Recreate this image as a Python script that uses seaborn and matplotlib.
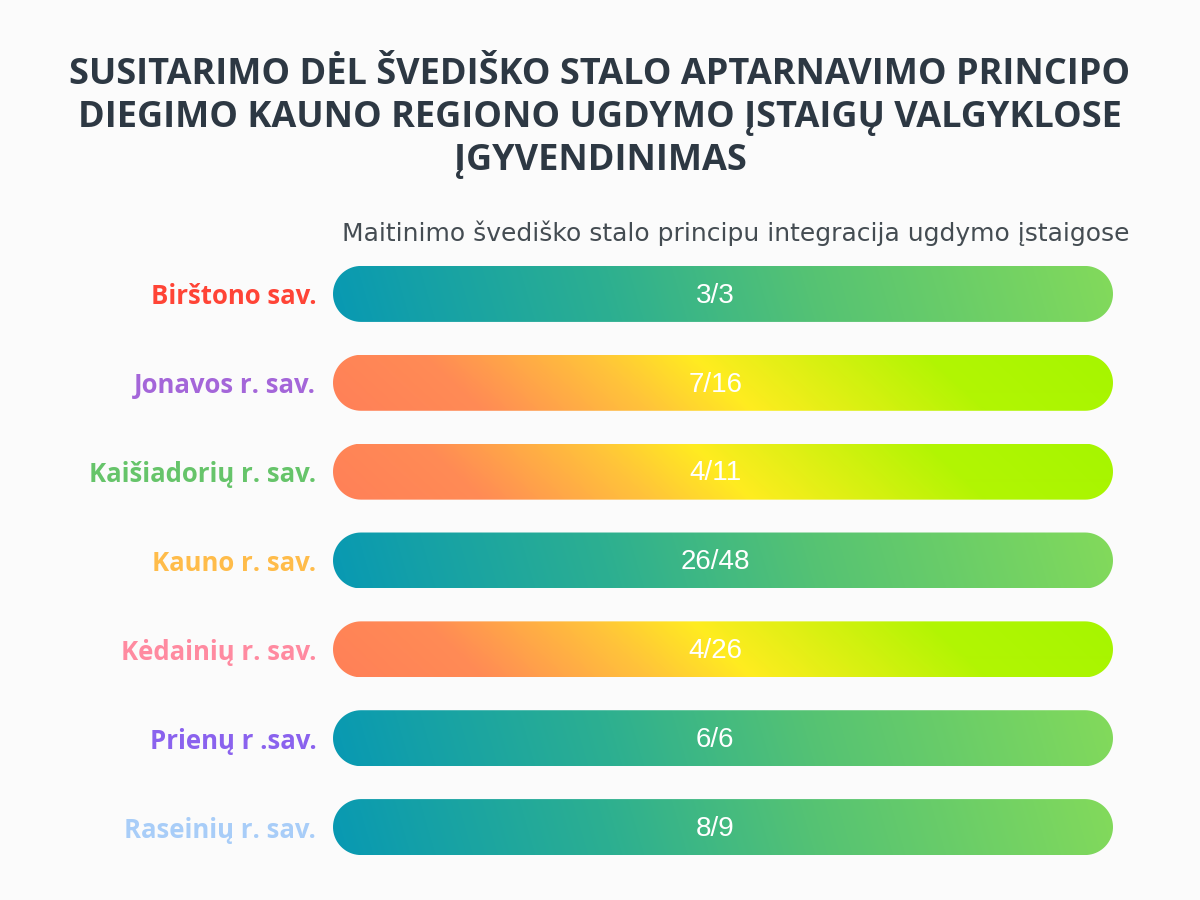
import numpy as np
import pandas as pd
import matplotlib
matplotlib.use("Agg")
import matplotlib.pyplot as plt
import seaborn as sns
from matplotlib.patches import Polygon
from matplotlib.colors import LinearSegmentedColormap

# --- data ---
regions = ["Birštono sav.", "Jonavos r. sav.", "Kaišiadorių r. sav.", "Kauno r. sav.",
           "Kėdainių r. sav.", "Prienų r .sav.", "Raseinių r. sav."]
progress_labels = ["3/3", "7/16", "4/11", "26/48", "4/26", "6/6", "8/9"]
bar_share = [100, 100, 100, 100, 100, 100, 100]
bar_scheme = ["teal", "warm", "warm", "teal", "warm", "teal", "teal"]
label_colors = ["#ff4436", "#a466d9", "#66c46a", "#ffbc4a", "#ff8aa0", "#8a62ee", "#a8cdf8"]

title = ("SUSITARIMO DĖL ŠVEDIŠKO STALO APTARNAVIMO PRINCIPO\n"
         "DIEGIMO KAUNO REGIONO UGDYMO ĮSTAIGŲ VALGYKLOSE\n"
         "ĮGYVENDINIMAS")
subtitle = "Maitinimo švediško stalo principu integracija ugdymo įstaigose"

BG = "#fbfbfb"
cmaps = {
    "teal": LinearSegmentedColormap.from_list(
        "teal", [(0, "#0899b3"), (0.35, "#2caf91"), (0.62, "#56c373"), (1, "#83da5b")]),
    "warm": LinearSegmentedColormap.from_list(
        "warm", [(0, "#ff8058"), (0.18, "#ff8b55"), (0.38, "#ffc43a"), (0.5, "#ffec20"),
                 (0.78, "#b2f503"), (1, "#a6f500")]),
}

df = pd.DataFrame({"region": regions, "share": bar_share})

sns.set_theme(style="white")
plt.rcParams["font.family"] = ["Open Sans", "DejaVu Sans"]

fig = plt.figure(figsize=(12, 9), dpi=100, facecolor=BG)
# axes laid out so the bars sit at x 333..1113 px
ax = fig.add_axes([333 / 1200, 28.5 / 900, 780 / 1200, 622 / 900])
ax.set_facecolor(BG)

sns.barplot(data=df, x="share", y="region", orient="h", ax=ax, width=0.63, color="#cccccc")

# px per data unit, for round ends
px_x = 780 / 100
px_y = 622 / 7


def pill_vertices(x0, y0, w, h, n=40):
    """Outline of a bar with half-circle ends, in data units."""
    r_y = h / 2
    r_x = r_y * px_y / px_x
    yc = y0 + h / 2
    a = np.linspace(-np.pi / 2, np.pi / 2, n)
    right = np.column_stack([x0 + w - r_x + r_x * np.cos(a), yc + r_y * np.sin(a)])
    a2 = np.linspace(np.pi / 2, 3 * np.pi / 2, n)
    left = np.column_stack([x0 + r_x + r_x * np.cos(a2), yc + r_y * np.sin(a2)])
    return np.vstack([right, left])


for i, patch in enumerate(ax.patches):
    x0, y0 = patch.get_x(), patch.get_y()
    w, h = patch.get_width(), patch.get_height()
    patch.set_visible(False)
    pill = Polygon(pill_vertices(x0, y0, w, h), closed=True,
                   facecolor="none", edgecolor="none", transform=ax.transData)
    ax.add_patch(pill)
    W, H = int(w * px_x), int(h * px_y)
    xx, yy = np.meshgrid(np.arange(W), np.arange(H))
    if bar_scheme[i] == "warm":
        t = (xx + (H - yy) * 1.1) / (W + H * 1.1)
    else:
        t = (xx + (H - yy) * 0.3) / (W + H * 0.3)
    img = cmaps[bar_scheme[i]](t)
    im = ax.imshow(img, extent=(x0, x0 + w, y0 + h, y0), aspect="auto", zorder=2)
    im.set_clip_path(pill)
    ax.text(x0 + w * 0.49, y0 + h / 2 + 0.02, progress_labels[i], color="white", fontsize=20,
            ha="center", va="center", family=["Liberation Sans", "DejaVu Sans"], zorder=3)

ax.set_xlim(0, 100)
ax.set_ylim(6.5, -0.5)
ax.set_xlabel("")
ax.set_ylabel("")
ax.set_xticks([])
ax.set_yticks(range(len(regions)))
ax.set_yticklabels(regions, fontsize=18.5, fontweight="bold")
for tick, c in zip(ax.get_yticklabels(), label_colors):
    tick.set_color(c)
ax.tick_params(axis="y", length=0, pad=12)
sns.despine(ax=ax, left=True, bottom=True)

fig.text(0.5, 1 - 118 / 900, title, ha="center", va="center", fontsize=26,
         fontweight="bold", color="#2d3843", linespacing=1.27)
fig.text(1130 / 1200, 1 - 233 / 900, subtitle, ha="right", va="center", fontsize=18,
         color="#444c52", family=["DejaVu Sans"])

fig.savefig("out.png", dpi=100, facecolor=BG)
